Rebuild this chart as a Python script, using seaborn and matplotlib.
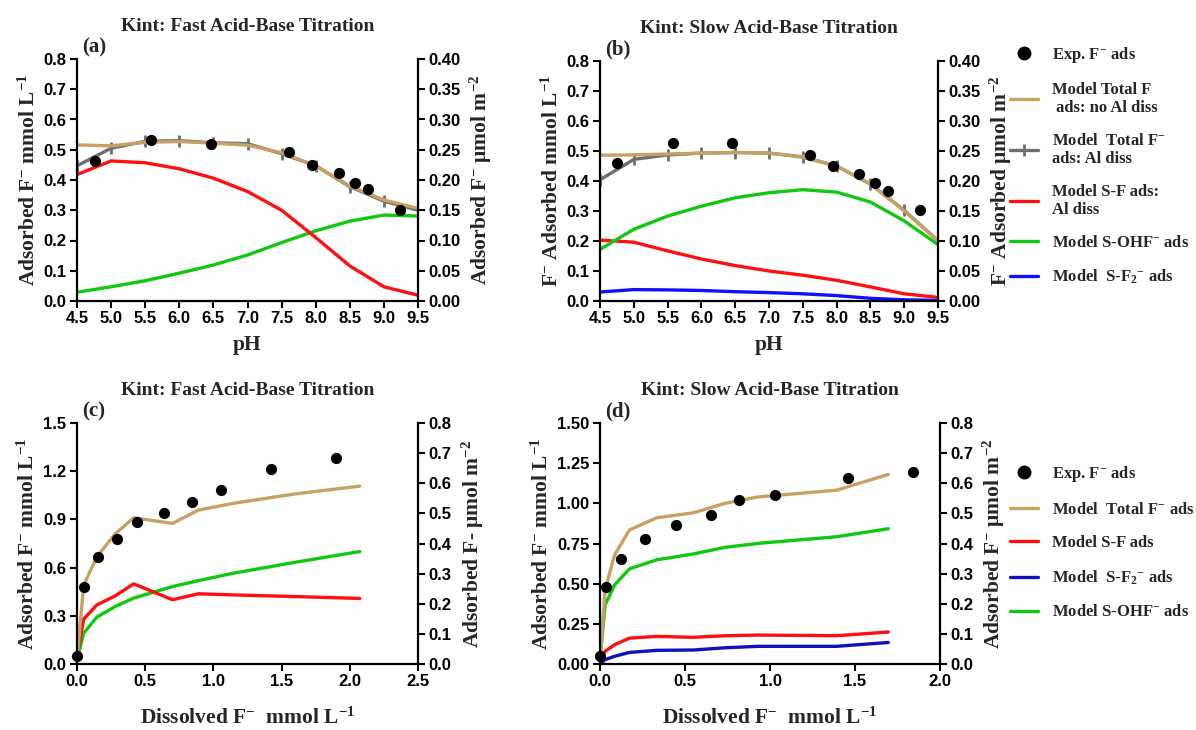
import numpy as np
import pandas as pd
import matplotlib
matplotlib.use("Agg")
import matplotlib.pyplot as plt
import seaborn as sns
from matplotlib.lines import Line2D

# ---------------- data ----------------
ph = [4.5, 5.0, 5.5, 6.0, 6.5, 7.0, 7.5, 8.0, 8.5, 9.0, 9.5]

# panel (a): fast titration vs pH
a_exp_ph = [4.76, 5.59, 6.46, 7.61, 7.95, 8.34, 8.58, 8.77, 9.24]
a_exp_y = [0.462, 0.531, 0.520, 0.493, 0.449, 0.422, 0.391, 0.371, 0.300]
a_total_noal = [0.516, 0.513, 0.525, 0.527, 0.522, 0.515, 0.490, 0.447, 0.380, 0.334, 0.306]
a_total_al = [0.447, 0.505, 0.528, 0.530, 0.523, 0.520, 0.487, 0.447, 0.378, 0.330, 0.300]
a_sf = [0.418, 0.463, 0.457, 0.437, 0.406, 0.362, 0.300, 0.210, 0.116, 0.047, 0.019]
a_sohf = [0.029, 0.047, 0.067, 0.092, 0.119, 0.152, 0.193, 0.232, 0.264, 0.284, 0.281]

# panel (b): slow titration vs pH
b_exp_ph = [4.75, 5.58, 6.46, 7.60, 7.95, 8.33, 8.57, 8.76, 9.23]
b_exp_y = [0.460, 0.526, 0.526, 0.488, 0.451, 0.422, 0.392, 0.368, 0.304]
b_total_noal = [0.486, 0.487, 0.490, 0.493, 0.495, 0.493, 0.480, 0.450, 0.390, 0.300, 0.200]
b_total_al = [0.404, 0.472, 0.487, 0.493, 0.495, 0.493, 0.480, 0.450, 0.390, 0.302, 0.201]
b_sf = [0.203, 0.196, 0.167, 0.140, 0.118, 0.100, 0.086, 0.069, 0.047, 0.024, 0.012]
b_sohf = [0.172, 0.239, 0.283, 0.316, 0.344, 0.361, 0.371, 0.363, 0.330, 0.267, 0.188]
b_sf2 = [0.030, 0.038, 0.037, 0.035, 0.031, 0.028, 0.024, 0.018, 0.009, 0.004, 0.002]

# panel (c): fast titration vs dissolved F
c_exp_x = [0.0, 0.049, 0.151, 0.290, 0.437, 0.637, 0.841, 1.054, 1.420, 1.900]
c_exp_y = [0.048, 0.482, 0.664, 0.780, 0.881, 0.937, 1.008, 1.086, 1.215, 1.283]
c_mod_x = [0.0, 0.049, 0.146, 0.280, 0.415, 0.700, 0.890, 1.146, 1.585, 2.073]
c_total = [0.027, 0.490, 0.668, 0.810, 0.910, 0.875, 0.958, 1.000, 1.057, 1.107]
c_sf = [0.048, 0.279, 0.368, 0.424, 0.499, 0.400, 0.437, 0.430, 0.420, 0.408]
c_sohf = [0.027, 0.192, 0.292, 0.358, 0.410, 0.482, 0.519, 0.565, 0.631, 0.700]

# panel (d): slow titration vs dissolved F
d_exp_x = [0.0, 0.035, 0.125, 0.263, 0.447, 0.651, 0.816, 1.029, 1.459, 1.841]
d_exp_y = [0.048, 0.482, 0.652, 0.780, 0.863, 0.929, 1.020, 1.049, 1.157, 1.196]
d_mod_x = [0.0, 0.030, 0.086, 0.173, 0.333, 0.549, 0.735, 0.931, 1.392, 1.696]
d_total = [0.027, 0.460, 0.679, 0.834, 0.910, 0.941, 1.000, 1.040, 1.082, 1.180]
d_sohf = [0.027, 0.368, 0.492, 0.592, 0.648, 0.685, 0.726, 0.751, 0.792, 0.842]
d_sf = [0.017, 0.079, 0.120, 0.161, 0.172, 0.166, 0.176, 0.180, 0.176, 0.199]
d_sf2 = [0.000, 0.027, 0.048, 0.072, 0.085, 0.087, 0.101, 0.110, 0.110, 0.134]

# ---------------- style ----------------
sns.set_style("ticks")
plt.rcParams['font.family'] = ['Liberation Serif', 'DejaVu Serif']
plt.rcParams['font.weight'] = 'bold'
plt.rcParams['axes.labelweight'] = 'bold'
plt.rcParams['axes.titleweight'] = 'bold'
plt.rcParams['mathtext.fontset'] = 'custom'
plt.rcParams['mathtext.rm'] = 'Liberation Serif:bold'
plt.rcParams['mathtext.it'] = 'Liberation Serif:bold'
plt.rcParams['mathtext.bf'] = 'Liberation Serif:bold'

TAN = '#C9A064'
GRAY = '#6E6E6E'
RED = '#FF1010'
GREEN = '#10C810'
BLUE = '#1010FF'
DBLUE = '#1010C0'
LW = 2.4
LABFS = 15.5
TITFS = 14
LEGFS = 12

fig = plt.figure(figsize=(11.96, 7.30), dpi=100)

W, H = 1196.0, 730.0
def rect(l, r, t, b):
    return [l / W, 1 - b / H, (r - l) / W, (b - t) / H]

axA = fig.add_axes(rect(77, 418, 59, 301))
axB = fig.add_axes(rect(600, 938, 61, 301))
axC = fig.add_axes(rect(77, 418, 423, 664))
axD = fig.add_axes(rect(600, 940, 423, 664))

TICKFONT = dict(family='Liberation Sans', weight='bold', size=12)

def style_ax(ax, twin):
    for a in (ax, twin):
        a.spines['top'].set_visible(False)
        for s in ('left', 'right', 'bottom'):
            a.spines[s].set_linewidth(1.6)
            a.spines[s].set_color('black')
        a.tick_params(direction='out', length=5, width=1.5, colors='black', pad=2.5)
    ax.spines['right'].set_visible(False)
    twin.spines['left'].set_visible(False)
    twin.spines['bottom'].set_visible(False)
    for lab in ax.get_xticklabels() + ax.get_yticklabels() + twin.get_yticklabels():
        lab.set_fontfamily(TICKFONT['family'])
        lab.set_fontweight(TICKFONT['weight'])
        lab.set_fontsize(TICKFONT['size'])

def line(ax, x, y, color, **kw):
    sns.lineplot(x=x, y=y, ax=ax, color=color, linewidth=LW, estimator=None,
                 sort=False, legend=False, **kw)

def exp_pts(ax, x, y):
    sns.scatterplot(x=x, y=y, ax=ax, color='black', s=65, edgecolor='black',
                    linewidth=0, zorder=5, clip_on=False, legend=False)

def ph_axis(ax, ylab, ylab2, title, tag):
    ax.set_xlim(4.5, 9.5)
    ax.set_ylim(0, 0.8)
    ax.set_xticks(np.arange(4.5, 9.51, 0.5))
    ax.set_xticklabels([f"{v:.1f}" for v in np.arange(4.5, 9.51, 0.5)])
    ax.set_yticks(np.arange(0, 0.81, 0.1))
    ax.set_yticklabels([f"{v:.1f}" for v in np.arange(0, 0.81, 0.1)])
    tw = ax.twinx()
    tw.set_ylim(0, 0.4)
    tw.set_yticks(np.arange(0, 0.401, 0.05))
    tw.set_yticklabels([f"{v:.2f}" for v in np.arange(0, 0.401, 0.05)])
    ax.set_xlabel("pH", fontsize=LABFS, labelpad=6)
    ax.set_ylabel(ylab, fontsize=LABFS, labelpad=3)
    tw.set_ylabel(ylab2, fontsize=LABFS, labelpad=5)
    ax.set_title(title, fontsize=TITFS, pad=20)
    ax.text(0.015, 1.005, tag, transform=ax.transAxes, fontsize=15,
            va='bottom', ha='left')
    style_ax(ax, tw)
    return tw

# ---------------- panel (a) ----------------
line(axA, ph, a_sohf, GREEN)
line(axA, ph, a_sf, RED)
line(axA, ph, a_total_al, GRAY, marker='|', markersize=8, markeredgewidth=2,
     markeredgecolor=GRAY)
line(axA, ph, a_total_noal, TAN)
exp_pts(axA, a_exp_ph, a_exp_y)
ph_axis(axA, "Adsorbed F$^{-}$ mmol L$^{-1}$", "Adsorbed F$^{-}$ \u03bcmol m$^{-2}$",
        "Kint: Fast Acid-Base Titration", "(a)")

# ---------------- panel (b) ----------------
line(axB, ph, b_sf2, BLUE)
line(axB, ph, b_sf, RED)
line(axB, ph, b_sohf, GREEN)
line(axB, ph, b_total_al, GRAY, marker='|', markersize=8, markeredgewidth=2,
     markeredgecolor=GRAY)
line(axB, ph, b_total_noal, TAN)
exp_pts(axB, b_exp_ph, b_exp_y)
ph_axis(axB, "F$^{-}$ Adsorbed mmol L$^{-1}$", "F$^{-}$ Adsorbed \u03bcmol m$^{-2}$",
        "Kint: Slow Acid-Base Titration", "(b)")

# ---------------- panel (c) ----------------
line(axC, c_mod_x, c_sohf, GREEN)
line(axC, c_mod_x, c_sf, RED)
line(axC, c_mod_x, c_total, TAN)
exp_pts(axC, c_exp_x, c_exp_y)
axC.set_xlim(0, 2.5)
axC.set_ylim(0, 1.5)
axC.set_xticks(np.arange(0, 2.51, 0.5))
axC.set_xticklabels([f"{v:.1f}" for v in np.arange(0, 2.51, 0.5)])
axC.set_yticks(np.arange(0, 1.51, 0.3))
axC.set_yticklabels([f"{v:.1f}" for v in np.arange(0, 1.51, 0.3)])
twC = axC.twinx()
twC.set_ylim(0, 0.8)
twC.set_yticks(np.arange(0, 0.81, 0.1))
twC.set_yticklabels([f"{v:.1f}" for v in np.arange(0, 0.81, 0.1)])
axC.set_xlabel("Dissolved F$^{-}$  mmol L$^{-1}$", fontsize=LABFS, labelpad=13)
axC.set_ylabel("Adsorbed F$^{-}$ mmol L$^{-1}$", fontsize=LABFS, labelpad=3)
twC.set_ylabel("Adsorbed F- \u03bcmol m$^{-2}$", fontsize=LABFS, labelpad=6)
axC.set_title("Kint: Fast Acid-Base Titration", fontsize=TITFS, pad=20)
axC.text(0.015, 1.005, "(c)", transform=axC.transAxes, fontsize=15,
         va='bottom', ha='left')
style_ax(axC, twC)

# ---------------- panel (d) ----------------
line(axD, d_mod_x, d_sf2, DBLUE)
line(axD, d_mod_x, d_sf, RED)
line(axD, d_mod_x, d_sohf, GREEN)
line(axD, d_mod_x, d_total, TAN)
exp_pts(axD, d_exp_x, d_exp_y)
axD.set_xlim(0, 2.0)
axD.set_ylim(0, 1.5)
axD.set_xticks(np.arange(0, 2.01, 0.5))
axD.set_xticklabels([f"{v:.1f}" for v in np.arange(0, 2.01, 0.5)])
axD.set_yticks(np.arange(0, 1.51, 0.25))
axD.set_yticklabels([f"{v:.2f}" for v in np.arange(0, 1.51, 0.25)])
twD = axD.twinx()
twD.set_ylim(0, 0.8)
twD.set_yticks(np.arange(0, 0.81, 0.1))
twD.set_yticklabels([f"{v:.1f}" for v in np.arange(0, 0.81, 0.1)])
axD.set_xlabel("Dissolved F$^{-}$  mmol L$^{-1}$", fontsize=LABFS, labelpad=13)
axD.set_ylabel("Adsorbed F$^{-}$ mmol L$^{-1}$", fontsize=LABFS, labelpad=3)
twD.set_ylabel("Adsorbed F$^{-}$ \u03bcmol m$^{-2}$", fontsize=LABFS, labelpad=5)
axD.set_title("Kint: Slow Acid-Base Titration", fontsize=TITFS, pad=20)
axD.text(0.015, 1.005, "(d)", transform=axD.transAxes, fontsize=15,
         va='bottom', ha='left')
style_ax(axD, twD)

# ---------------- legends ----------------
def lh(color, **kw):
    return Line2D([], [], color=color, lw=LW, **kw)

exp_h = Line2D([], [], color='black', marker='o', markersize=9, lw=0)

top_handles = [exp_h, lh(TAN),
               lh(GRAY, marker='|', markersize=8, markeredgewidth=2),
               lh(RED), lh(GREEN), lh(BLUE)]
top_labels = ["Exp. F$^{-}$ ads",
              "Model Total F\n ads: no Al diss",
              "Model  Total F$^{-}$\nads: Al diss",
              "Model S-F ads:\nAl diss",
              "Model S-OHF$^{-}$ ads",
              "Model  S-F$_{2}$$^{-}$ ads"]
fig.legend(top_handles, top_labels, loc='upper left',
           bbox_to_anchor=(1010 / W, 1 - 45 / H), frameon=False,
           prop=dict(family='Liberation Serif', weight='bold', size=LEGFS),
           handlelength=1.7, handletextpad=0.8, labelspacing=1.0,
           borderpad=0, borderaxespad=0)

bot_handles = [exp_h, lh(TAN), lh(RED), lh(DBLUE), lh(GREEN)]
bot_labels = ["Exp. F$^{-}$ ads",
              "Model  Total F$^{-}$ ads",
              "Model S-F ads",
              "Model  S-F$_{2}$$^{-}$ ads",
              "Model S-OHF$^{-}$ ads"]
fig.legend(bot_handles, bot_labels, loc='upper left',
           bbox_to_anchor=(1010 / W, 1 - 464 / H), frameon=False,
           prop=dict(family='Liberation Serif', weight='bold', size=LEGFS),
           handlelength=1.7, handletextpad=0.8, labelspacing=1.05,
           borderpad=0, borderaxespad=0)

fig.savefig("out.png", dpi=100)
